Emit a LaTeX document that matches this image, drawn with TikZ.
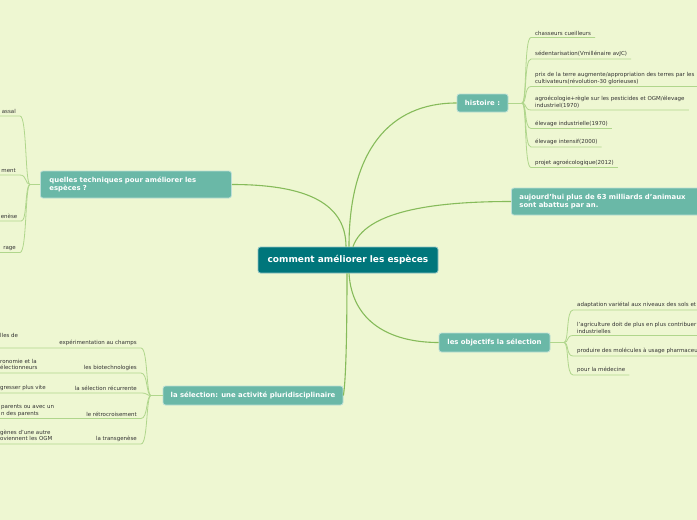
\documentclass[tikz,border=0pt]{standalone}
\usepackage{fontspec}
\setmainfont{DejaVu Sans}
\definecolor{bgc}{HTML}{EEF7D2}
\definecolor{rootc}{HTML}{00767B}
\definecolor{subc}{HTML}{6AB8A7}
\definecolor{mainline}{HTML}{86BB5A}
\definecolor{leafline}{HTML}{B0D68C}
\definecolor{leaftext}{HTML}{333333}
\begin{document}
\begin{tikzpicture}[x=1pt,y=-1pt,
 rootbox/.style={fill=rootc,draw=white!55!rootc,line width=0.8pt,rounded corners=2.5pt,text=white,font=\bfseries\fontsize{9}{10}\selectfont,minimum width=180pt,minimum height=26pt,inner sep=0pt},
 subbox/.style={fill=subc,draw=white!55!subc,line width=0.8pt,rounded corners=2.5pt,text=white,font=\bfseries\fontsize{6.9}{8}\selectfont,align=left,inner sep=0pt},
 leaf/.style={font=\fontsize{5.5}{6.5}\selectfont,text=leaftext,inner xsep=4pt,inner ysep=2pt,align=left},
 leafr/.style={leaf,align=right},
 gtext/.style={font=\fontsize{5.5}{6.5}\selectfont,text=leaftext,inner sep=0pt,align=left,anchor=base west},
 mainlink/.style={draw=mainline,line width=1.1pt},
 leaflink/.style={draw=leafline,line width=0.8pt}
]
\useasboundingbox (0,0) rectangle (697,520);
\fill[bgc] (0,0) rectangle (697,520);

% main nodes
\node[rootbox] (root) at (348,260) {comment améliorer les espèces};
\node[subbox,minimum width=51pt,minimum height=18pt] (hist) at (482.5,103) {histoire :};
\node[subbox,anchor=west,inner xsep=8pt,text width=178pt,minimum height=27pt] (auj) at (511,201.5) {aujourd'hui plus de 63 milliards d'animaux\\sont abattus par an.};
\node[subbox,anchor=west,inner xsep=9pt,text width=173pt,minimum height=27pt] (quel) at (40,184.5) {quelles techniques pour améliorer les\\espèces ?};
\node[subbox,minimum width=111pt,minimum height=19pt] (obj) at (494.5,342.5) {les objectifs la sélection};
\node[subbox,minimum width=180pt,minimum height=19pt] (sel) at (253,395.5) {la sélection: une activité pluridisciplinaire};

% main connectors
\draw[mainlink] ([xshift=1pt]root.north) .. controls (349,150) and (390,103) .. (hist.west);
\draw[mainlink] ([xshift=5pt]root.north) .. controls (365,212) and (430,201.5) .. (auj.west);
\draw[mainlink] ([xshift=-2pt]root.north) .. controls (346,200) and (300,184.5) .. (quel.east);
\draw[mainlink] ([xshift=1pt]root.south) .. controls (352,322) and (390,342.5) .. (obj.west);
\draw[mainlink] ([xshift=-1pt]root.south) .. controls (347,330) and (346,380) .. (sel.east);

% histoire leaves
\coordinate (hb) at (522,103);
\draw[leaflink] (hist.east) -- (hb);
\node[leaf,anchor=south west] (h1) at (531,37.5) {chasseurs cueilleurs};
\node[leaf,anchor=south west] (h2) at (531,59) {sédentarisation(Vmillénaire avJC)};
\node[leaf,anchor=south west] (h3) at (531,86.5) {prix de la terre augmente/appropriation des terres par les\\cultivateurs(révolution-30 glorieuses)};
\node[leaf,anchor=south west] (h4) at (531,110) {agroécologie+règle sur les pesticides et OGM/élevage\\industriel(1970)};
\node[leaf,anchor=south west] (h5) at (531,128.5) {élevage industrielle(1970)};
\node[leaf,anchor=south west] (h6) at (531,147) {élevage intensif(2000)};
\node[leaf,anchor=south west] (h7) at (531,167.5) {projet agroécologique(2012)};
\foreach \n/\y in {h1/37.5,h2/59,h3/86.5,h4/110,h5/128.5,h6/147,h7/167.5}
  \draw[leaflink] (hb) .. controls (527,103) and (524,\y) .. (\n.south west) -- (\n.south east);

% objectifs leaves
\coordinate (ob) at (564,342.5);
\draw[leaflink] (obj.east) -- (ob);
\node[leaf,anchor=south west] (o1) at (573,310) {adaptation variétal aux niveaux des sols et};
\node[leaf,anchor=south west] (o2) at (573,335.5) {l'agriculture doit de plus en plus contribuer\\industrielles};
\node[leaf,anchor=south west] (o3) at (573,356) {produire des molécules à usage pharmaceu};
\node[leaf,anchor=south west] (o4) at (573,375) {pour la médecine};
\foreach \n/\y in {o1/310,o2/335.5,o3/356,o4/375}
  \draw[leaflink] (ob) .. controls (569,342.5) and (566,\y) .. (\n.south west) -- (\n.south east);

% quelles leaves
\coordinate (qb) at (30,184.5);
\draw[leaflink] (quel.west) -- (qb);
\node[leafr,anchor=south east] (q1) at (20,116) {assal};
\node[leafr,anchor=south east] (q2) at (20,175) {ment};
\node[leafr,anchor=south east] (q3) at (21.5,221) {enèse};
\node[leafr,anchor=south east] (q4) at (20,252.5) {rage};
\foreach \n/\y in {q1/116,q2/175,q3/221,q4/252.5}
  \draw[leaflink] (qb) .. controls (25,184.5) and (27,\y) .. (\n.south east) -- (\n.south west);

% selection leaves
\coordinate (sb) at (151,395.5);
\draw[leaflink] (sel.west) -- (sb);
\node[leafr,anchor=south east] (s1) at (141,348) {expérimentation au champs};
\node[leafr,anchor=south east] (s2) at (141,373) {les biotechnologies};
\node[leafr,anchor=south east] (s3) at (141,393) {la sélection récurrente};
\node[leafr,anchor=south east] (s4) at (141,418.5) {le rétrocroisement};
\node[leafr,anchor=south east] (s5) at (141,444) {la transgenèse};
\coordinate (e1) at (-2,348);
\coordinate (e2) at (-2,373);
\coordinate (e3) at (-2,393);
\coordinate (e4) at (-2,418.5);
\coordinate (e5) at (-2,444);
\foreach \n/\e/\y in {s1/e1/348,s2/e2/373,s3/e3/393,s4/e4/418.5,s5/e5/444}
  \draw[leaflink] (sb) .. controls (146,395.5) and (148,\y) .. (\n.south east) -- (\e);

% grandchild texts (cut by the left edge); base = last line
\node[gtext] (g1) at (0,337) {lles de};
\node[gtext] (g2) at (0,369.5) {ronomie et la\\électionneurs};
\node[gtext] (g3) at (0,389) {gresser plus vite};
\node[gtext] (g4) at (1,415) {parents ou avec un\\n des parents};
\node[gtext] (g5) at (0,440.5) {gènes d'une autre\\oviennent les OGM};
\end{tikzpicture}
\end{document}
